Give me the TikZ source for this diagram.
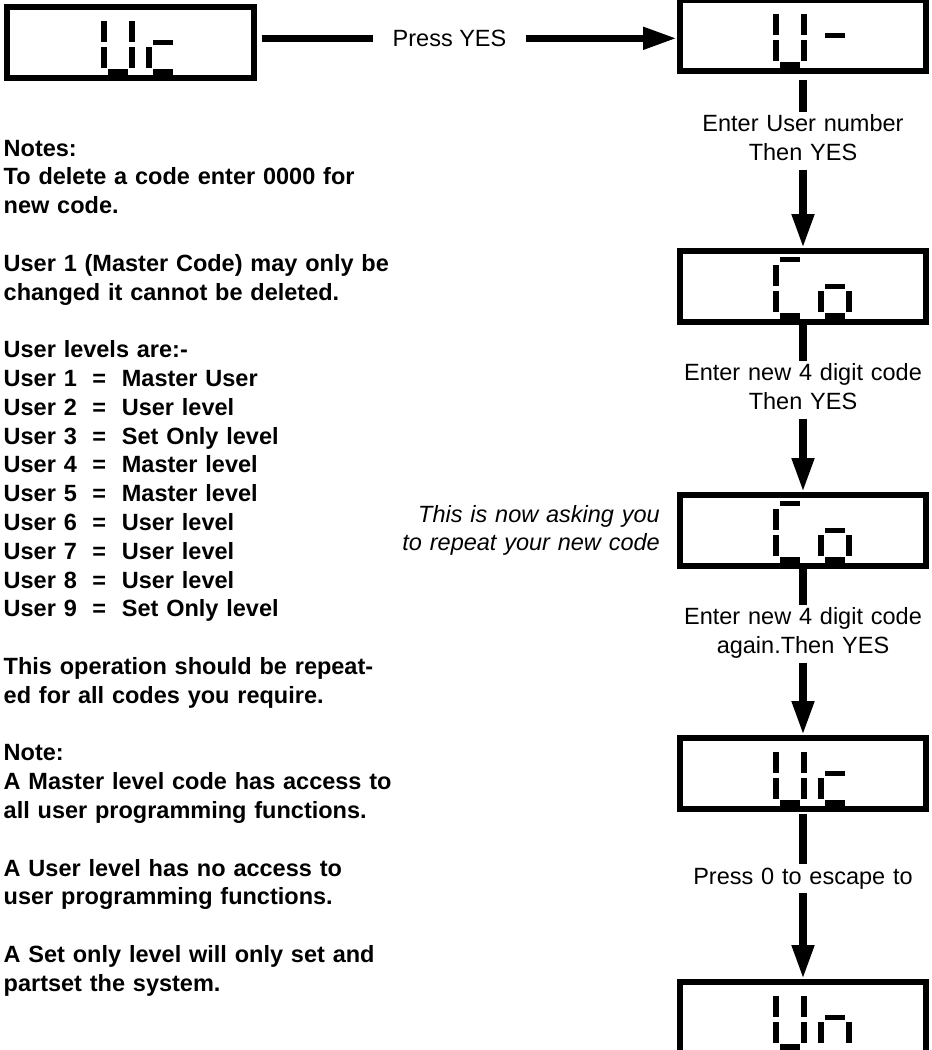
\documentclass[tikz,border=0pt]{standalone}
\usepackage{fontspec}
\setmainfont{Liberation Sans}
\usepackage{tikz}
\usetikzlibrary{arrows.meta,positioning}

% LCD segments, relative to the top left corner of one digit
\newcommand{\sega}{\fill (7,9) rectangle (27,14);}
\newcommand{\segb}{\fill (28,17) rectangle (34,38);}
\newcommand{\segc}{\fill (28,43) rectangle (34,64);}
\newcommand{\segd}{\fill (7,65) rectangle (27,71);}
\newcommand{\sege}{\fill (0,43) rectangle (6,64);}
\newcommand{\segf}{\fill (0,17) rectangle (6,38);}
\newcommand{\segg}{\fill (7,36) rectangle (27,41);}

\begin{document}
\begin{tikzpicture}[x=1pt, y=-1pt, font=\fontsize{23.5}{28.8}\selectfont]
% STYLES
\tikzset{%
    display/.style={%
        rectangle, draw, line width=6pt, inner sep=0pt,
        minimum width=246pt, minimum height=71pt
    },
    hint/.style={%
        align=center, text width=260pt, inner sep=0pt,
        execute at begin node=\strut, execute at end node=\strut
    },
    flow/.style={line width=7.5pt, >={Triangle[length=34pt,width=21pt]}},
    lcd U/.pic={\segb\segc\segd\sege\segf},
    lcd c/.pic={\segd\sege\segg},
    lcd o/.pic={\segc\segd\sege\segg},
    lcd C/.pic={\sega\segd\sege\segf},
    lcd n/.pic={\segc\sege\segg},
    lcd dash/.pic={\segg}
}
\useasboundingbox (0,0) rectangle (932,1050);
% Draw displays
\node [display, minimum width=247pt] (disp1) at (130.5,42.5) {};
\node [display] (disp2) at (803,35.5) {};
\node [display] (disp3) at (803,286.5) {};
\node [display] (disp4) at (803,530.5) {};
\node [display] (disp5) at (803,773.5) {};
\node [display] (disp6) at (803,1017.5) {};
% Draw the characters shown on the displays
\pic at ([xshift=-30pt]disp1.north) {lcd U};
\pic at ([xshift=15pt]disp1.north) {lcd c};
\pic at ([xshift=-30pt]disp2.north) {lcd U};
\pic at ([xshift=15pt]disp2.north) {lcd dash};
\pic at ([xshift=-30pt]disp3.north) {lcd C};
\pic at ([xshift=15pt]disp3.north) {lcd o};
\pic at ([xshift=-30pt]disp4.north) {lcd C};
\pic at ([xshift=15pt]disp4.north) {lcd o};
\pic at ([xshift=-30pt]disp5.north) {lcd U};
\pic at ([xshift=15pt]disp5.north) {lcd c};
\pic at ([xshift=-30pt]disp6.north) {lcd U};
\pic at ([xshift=15pt]disp6.north) {lcd n};
% Draw the instructions
\node [inner xsep=19.5pt, inner ysep=0pt] (press) at (449.5,38.3) {Press YES};
\node [hint, below=37.5pt of disp2] (usernum) {Enter User number\\Then YES};
\node [hint, below=35.5pt of disp3] (newcode) {Enter new 4 digit code\\Then YES};
\node [hint, below=35.5pt of disp4] (again) {Enter new 4 digit code\\again.Then YES};
\node [hint, below=51.8pt of disp5] (escape) {Press 0 to escape to};
\node [align=right, text width=320pt, inner sep=0pt,
       font=\fontsize{23.5}{28.8}\selectfont\itshape, left=17pt of disp4] (repeat)
      {This is now asking you\\to repeat your new code};
% Draw the notes
\node [anchor=base west, align=left, text width=420pt, inner sep=0pt,
       font=\fontsize{23.5}{28.8}\selectfont\bfseries] (notes) at (3.5,156)
      {Notes:\\
       To delete a code enter 0000 for\\
       new code.\\[28.8pt]
       User 1 (Master Code) may only be\\
       changed it cannot be deleted.\\[28.8pt]
       User levels are:-\\
       User 1\ \ =\ \ Master User\\
       User 2\ \ =\ \ User level\\
       User 3\ \ =\ \ Set Only level\\
       User 4\ \ =\ \ Master level\\
       User 5\ \ =\ \ Master level\\
       User 6\ \ =\ \ User level\\
       User 7\ \ =\ \ User level\\
       User 8\ \ =\ \ User level\\
       User 9\ \ =\ \ Set Only level\\[28.8pt]
       This operation should be repeat-\\
       ed for all codes you require.\\[28.8pt]
       Note:\\
       A Master level code has access to\\
       all user programming functions.\\[28.8pt]
       A User level has no access to\\
       user programming functions.\\[28.8pt]
       A Set only level will only set and\\
       partset the system.};
% Draw the links between displays
\draw [flow, shorten <=4.7pt] (press.west -| disp1.east) -- (press.west);
\draw [flow, ->] (press.east) -- (press.east -| disp2.west);
\draw [flow, shorten <=6pt] (disp2) -- (usernum);
\draw [flow, ->] (usernum) -- (disp3);
\draw [flow] (disp3) -- (newcode);
\draw [flow, ->] (newcode) -- (disp4);
\draw [flow] (disp4) -- (again);
\draw [flow, ->] (again) -- (disp5);
\draw [flow, shorten <=2pt] (disp5) -- (escape);
\draw [flow, ->] (escape) -- (disp6);
\end{tikzpicture}
\end{document}
